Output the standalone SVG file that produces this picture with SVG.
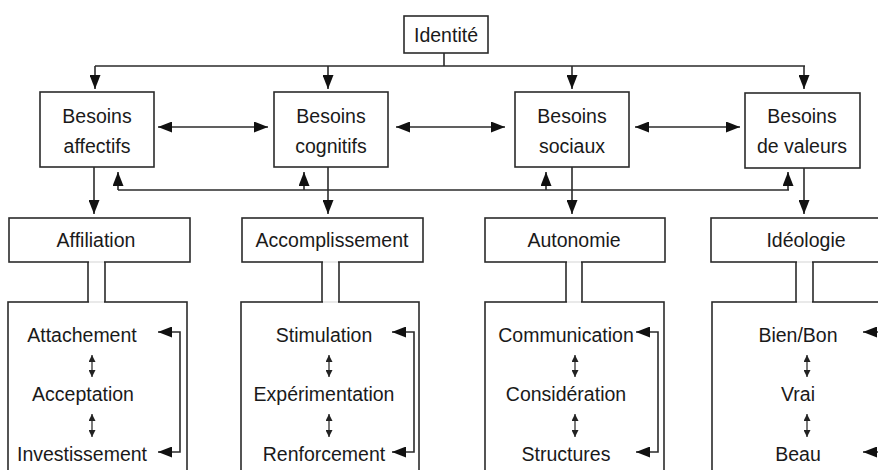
<svg xmlns="http://www.w3.org/2000/svg" width="878" height="470" viewBox="0 0 878 470">
<style>
  .box{fill:#fff;stroke:#2b2b2b;stroke-width:1.6}
  .ln{fill:none;stroke:#2b2b2b;stroke-width:1.6}
  .thin{fill:none;stroke:#333;stroke-width:1.3}
  .gap{fill:#fff;stroke:none}
  .faint{stroke:#e2e2e2;stroke-width:1.6}
  text{font-family:"Liberation Sans",Arial,sans-serif;font-size:19.5px;fill:#1a1a1a;text-anchor:middle}
</style>
<defs>
  <marker id="ah" markerUnits="userSpaceOnUse" markerWidth="14" markerHeight="11" refX="14" refY="5.5" orient="auto-start-reverse">
    <path d="M0,0 L14,5.5 L0,11 z" fill="#111"/>
  </marker>
  <marker id="sm" markerUnits="userSpaceOnUse" markerWidth="7" markerHeight="7" refX="7" refY="3.5" orient="auto-start-reverse">
    <path d="M0,0 L7,3.5 L0,7 z" fill="#222"/>
  </marker>
</defs>

<g id="connectors">
  <path class="ln" d="M444,53 V66 M95,66 H805"/>
  <path class="ln" d="M95,66 V89" marker-end="url(#ah)"/>
  <path class="ln" d="M328,66 V89" marker-end="url(#ah)"/>
  <path class="ln" d="M572,66 V89" marker-end="url(#ah)"/>
  <path class="ln" d="M804,66 V89" marker-end="url(#ah)"/>
  <path class="ln" d="M158,127 H268" marker-start="url(#ah)" marker-end="url(#ah)"/>
  <path class="ln" d="M396,127 H505" marker-start="url(#ah)" marker-end="url(#ah)"/>
  <path class="ln" d="M635,127 H740" marker-start="url(#ah)" marker-end="url(#ah)"/>
  <path class="ln" d="M94,167 V214" marker-end="url(#ah)"/>
  <path class="ln" d="M328,167 V214" marker-end="url(#ah)"/>
  <path class="ln" d="M572,167 V214" marker-end="url(#ah)"/>
  <path class="ln" d="M804,168 V214" marker-end="url(#ah)"/>
  <path class="ln" d="M118,190 H789"/>
  <path class="ln" d="M118,190 V172" marker-end="url(#ah)"/>
  <path class="ln" d="M304,190 V172" marker-end="url(#ah)"/>
  <path class="ln" d="M546,190 V172" marker-end="url(#ah)"/>
  <path class="ln" d="M788,190 V172" marker-end="url(#ah)"/>
</g>

<g id="identite">
  <rect class="box" x="404" y="16" width="84" height="37"/>
  <text x="446" y="42">Identité</text>
</g>

<g id="besoins-affectifs">
  <rect class="box" x="40" y="92" width="114" height="75"/>
  <text x="97" y="123">Besoins</text>
  <text x="97" y="153">affectifs</text>
</g>
<g id="besoins-cognitifs">
  <rect class="box" x="274" y="92" width="114" height="75"/>
  <text x="331" y="123">Besoins</text>
  <text x="331" y="153">cognitifs</text>
</g>
<g id="besoins-sociaux">
  <rect class="box" x="515" y="92" width="114" height="75"/>
  <text x="572" y="123">Besoins</text>
  <text x="572" y="153">sociaux</text>
</g>
<g id="besoins-valeurs">
  <rect class="box" x="745" y="93" width="115" height="75"/>
  <text x="802" y="123">Besoins</text>
  <text x="802" y="153">de valeurs</text>
</g>

<g id="affiliation">
  <rect class="box" x="9" y="218" width="181" height="44"/>
  <rect class="box" x="8" y="302" width="179" height="190"/>
  <rect class="gap" x="89" y="258" width="15" height="48"/>
  <path class="faint" d="M89,262 H104 M89,302 H104"/>
  <path class="ln" d="M88,262 V302 M105,262 V302"/>
  <text x="96" y="247">Affiliation</text>
  <text x="82" y="342">Attachement</text>
  <text x="83" y="401">Acceptation</text>
  <text x="82" y="461">Investissement</text>
  <path class="thin" d="M92,355 V377" marker-start="url(#sm)" marker-end="url(#sm)"/>
  <path class="thin" d="M92,414 V437" marker-start="url(#sm)" marker-end="url(#sm)"/>
  <path class="ln" d="M158,332 H180 V452 H158" marker-start="url(#ah)" marker-end="url(#ah)"/>
</g>

<g id="accomplissement">
  <rect class="box" x="242" y="218" width="181" height="44"/>
  <rect class="box" x="241" y="302" width="178" height="190"/>
  <rect class="gap" x="323" y="258" width="15" height="48"/>
  <path class="faint" d="M323,262 H338 M323,302 H338"/>
  <path class="ln" d="M322,262 V302 M339,262 V302"/>
  <text x="332" y="247">Accomplissement</text>
  <text x="324" y="342">Stimulation</text>
  <text x="324" y="401">Expérimentation</text>
  <text x="324" y="461">Renforcement</text>
  <path class="thin" d="M329,355 V377" marker-start="url(#sm)" marker-end="url(#sm)"/>
  <path class="thin" d="M329,414 V437" marker-start="url(#sm)" marker-end="url(#sm)"/>
  <path class="ln" d="M392,332 H414 V452 H392" marker-start="url(#ah)" marker-end="url(#ah)"/>
</g>

<g id="autonomie">
  <rect class="box" x="485" y="218" width="180" height="44"/>
  <rect class="box" x="485" y="302" width="179" height="190"/>
  <rect class="gap" x="567" y="258" width="14" height="48"/>
  <path class="faint" d="M567,262 H581 M567,302 H581"/>
  <path class="ln" d="M566,262 V302 M582,262 V302"/>
  <text x="574" y="247">Autonomie</text>
  <text x="566" y="342">Communication</text>
  <text x="566" y="401">Considération</text>
  <text x="566" y="461">Structures</text>
  <path class="thin" d="M575,355 V377" marker-start="url(#sm)" marker-end="url(#sm)"/>
  <path class="thin" d="M575,414 V437" marker-start="url(#sm)" marker-end="url(#sm)"/>
  <path class="ln" d="M636,332 H658 V452 H636" marker-start="url(#ah)" marker-end="url(#ah)"/>
</g>

<g id="ideologie">
  <rect class="box" x="711" y="218" width="190" height="44"/>
  <rect class="box" x="712" y="302" width="190" height="190"/>
  <rect class="gap" x="797" y="258" width="15" height="48"/>
  <path class="faint" d="M797,262 H812 M797,302 H812"/>
  <path class="ln" d="M796,262 V302 M813,262 V302"/>
  <text x="806" y="247">Idéologie</text>
  <text x="798" y="342">Bien/Bon</text>
  <text x="798" y="401">Vrai</text>
  <text x="798" y="461">Beau</text>
  <path class="thin" d="M807,355 V377" marker-start="url(#sm)" marker-end="url(#sm)"/>
  <path class="thin" d="M807,414 V437" marker-start="url(#sm)" marker-end="url(#sm)"/>
  <path class="ln" d="M863,332 H885 V452 H863" marker-start="url(#ah)" marker-end="url(#ah)"/>
</g>
</svg>
